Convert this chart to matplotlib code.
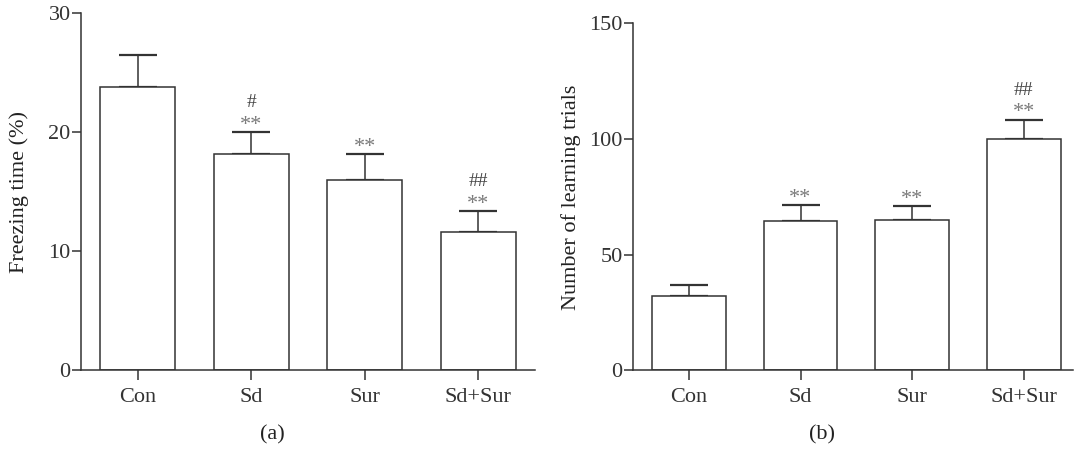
import matplotlib
matplotlib.use('Agg')
import matplotlib.pyplot as plt
import numpy as np

# Data
groups = ['Con', 'Sd', 'Sur', 'Sd+Sur']

freezing_mean = [23.8, 18.2, 16.0, 11.6]
freezing_err = [2.7, 1.8, 2.15, 1.8]
freezing_star = ['', '**', '**', '**']
freezing_hash = ['', '#', '', '##']

trials_mean = [32.0, 64.6, 65.2, 100.0]
trials_err = [5.0, 6.8, 5.8, 8.4]
trials_star = ['', '**', '**', '**']
trials_hash = ['', '', '', '##']

LINE = '#333333'
STAR = '#7a7a7a'
HASH = '#444444'
FONT = 'Liberation Serif'

plt.rcParams['font.family'] = FONT
plt.rcParams['font.size'] = 16
plt.rcParams['axes.edgecolor'] = LINE
plt.rcParams['xtick.color'] = LINE
plt.rcParams['ytick.color'] = LINE
plt.rcParams['text.color'] = '#222222'
plt.rcParams['axes.labelcolor'] = '#222222'


def draw_panel(ax, means, errs, stars, hashes, ylim, yticks, ylabel, xright, lpad):
    x = np.arange(len(groups))
    ax.bar(x, means, width=0.66, color='white', edgecolor=LINE, linewidth=1.1,
           zorder=2)
    ax.errorbar(x, means, yerr=[np.zeros(len(errs)), errs], fmt='none',
                ecolor=LINE, elinewidth=1.1, capsize=13.5, capthick=1.6, zorder=1)
    for xi, m, e, s, h in zip(x, means, errs, stars, hashes):
        top = m + e
        if s:
            ax.annotate(s, xy=(xi, top), xytext=(0, -2), textcoords='offset points',
                        ha='center', va='bottom', fontsize=16, color=STAR)
        if h:
            ax.annotate(h, xy=(xi, top), xytext=(0, 15), textcoords='offset points',
                        ha='center', va='bottom', fontsize=14, color=HASH)
    ax.set_xlim(-0.5, xright)
    ax.set_ylim(*ylim)
    ax.set_yticks(yticks)
    ax.set_xticks(x)
    ax.set_xticklabels(groups)
    ax.spines['top'].set_visible(False)
    ax.spines['right'].set_visible(False)
    ax.spines['left'].set_linewidth(1.1)
    ax.spines['bottom'].set_linewidth(1.1)
    ax.tick_params(axis='y', direction='out', length=6.5, width=1.1, pad=1)
    ax.tick_params(axis='x', direction='out', length=7.5, width=1.1, pad=5)
    ax.set_ylabel(ylabel, fontsize=16, labelpad=lpad)


fig = plt.figure(figsize=(10.76, 4.51), dpi=100)
ax1 = fig.add_axes([0.0753, 0.179, 0.422, 0.7915])
ax2 = fig.add_axes([0.5883, 0.179, 0.4089, 0.769])

draw_panel(ax1, freezing_mean, freezing_err, freezing_star, freezing_hash,
           (0, 30), [0, 10, 20, 30], 'Freezing time (%)', 3.5, 14)
draw_panel(ax2, trials_mean, trials_err, trials_star, trials_hash,
           (0, 150), [0, 50, 100, 150], 'Number of learning trials', 3.44, 6)

fig.text(272 / 1076, 1 - 435 / 451, '(a)', ha='center', va='center', fontsize=16)
fig.text(822 / 1076, 1 - 435 / 451, '(b)', ha='center', va='center', fontsize=16)

fig.savefig('out.png', dpi=100, facecolor='white')
